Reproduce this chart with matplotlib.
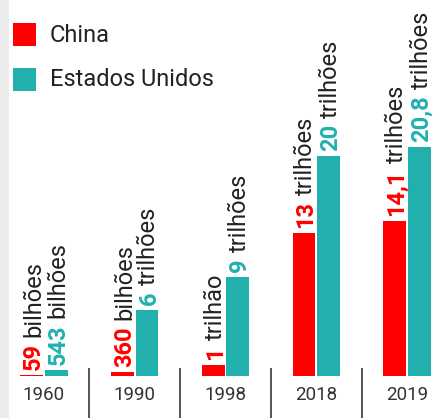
import matplotlib
matplotlib.use("Agg")
import matplotlib.pyplot as plt
from matplotlib.patches import Rectangle

# ---- data (values in trillions of US$) ----
years = ["1960", "1990", "1998", "2018", "2019"]
china = [0.059, 0.36, 1, 13, 14.1]
usa = [0.543, 6, 9, 20, 20.8]
china_num = ["59", "360", "1", "13", "14,1"]
china_unit = ["bilhões", "bilhões", "trilhão", "trilhões", "trilhões"]
usa_num = ["543", "6", "9", "20", "20,8"]
usa_unit = ["bilhões", "trilhões", "trilhões", "trilhões", "trilhões"]
legend_labels = ["China", "Estados Unidos"]

RED = "#ff0000"
TEAL = "#22b0ae"
DARK = "#222222"
FONT = ["Roboto", "DejaVu Sans"]

W, H, DPI = 436, 418, 100
fig = plt.figure(figsize=(W / DPI, H / DPI), dpi=DPI)
fig.patch.set_facecolor("white")
ax = fig.add_axes([0, 0, 1, 1])
ax.set_axis_off()

px_per_unit_x = 90.75
px_per_T = 11.0
x0_px = 44
base_px = 42  # from bottom
ax.set_xlim(-x0_px / px_per_unit_x, (W - x0_px) / px_per_unit_x)
ax.set_ylim(-base_px / px_per_T, (H - base_px) / px_per_T)

# left grey strip
fig.add_artist(Rectangle((0, 0), 9 / W, 1, transform=fig.transFigure,
                         facecolor="#ececec", edgecolor="none", zorder=0))

bw = 0.25
off = 0.135
xs = list(range(len(years)))
ax.bar([x - off for x in xs], china, width=bw, color=RED, zorder=2)
ax.bar([x + off for x in xs], usa, width=bw, color=TEAL, zorder=2)

# separators
for i in range(len(years) - 1):
    ax.plot([i + 0.5, i + 0.5], [0.73, -base_px / px_per_T], color="#555555",
            lw=1.4, solid_capstyle="butt", zorder=1)

# year labels
for i, y in enumerate(years):
    ax.text(i, -1.73, y, ha="center", va="center", fontsize=13.5,
            color="#333333", family=FONT)

FS = 17
fig.canvas.draw()
renderer = fig.canvas.get_renderer()

def add_label(x, val, num, unit, color):
    cap = 0.711 * FS
    gap = 3.5
    t1 = ax.annotate(num, xy=(x, val), xytext=(cap / 2, gap),
                     textcoords="offset points", rotation=90,
                     rotation_mode="anchor", ha="left", va="baseline",
                     fontsize=FS, fontweight="bold", color=color,
                     family=FONT, zorder=3)
    bb = t1.get_window_extent(renderer)
    length_pt = bb.height * 72 / DPI
    ax.annotate(unit, xy=(x, val), xytext=(cap / 2, gap + length_pt + 0.27 * FS),
                textcoords="offset points", rotation=90,
                rotation_mode="anchor", ha="left", va="baseline",
                fontsize=FS, color=DARK, family=FONT, zorder=3)

for i in xs:
    add_label(i - off, china[i], china_num[i], china_unit[i], RED)
    add_label(i + off, usa[i], usa_num[i], usa_unit[i], TEAL)

# legend
for k, (lab, col) in enumerate(zip(legend_labels, [RED, TEAL])):
    top = 23 + 45 * k
    fig.add_artist(Rectangle((13 / W, 1 - (top + 23) / H), 23 / W, 23 / H,
                             transform=fig.transFigure, facecolor=col,
                             edgecolor="none"))
    fig.text(50 / W, 1 - (top + 12) / H, lab, ha="left", va="center",
             fontsize=17, color=DARK, family=FONT)

fig.savefig("out.png", dpi=DPI)
